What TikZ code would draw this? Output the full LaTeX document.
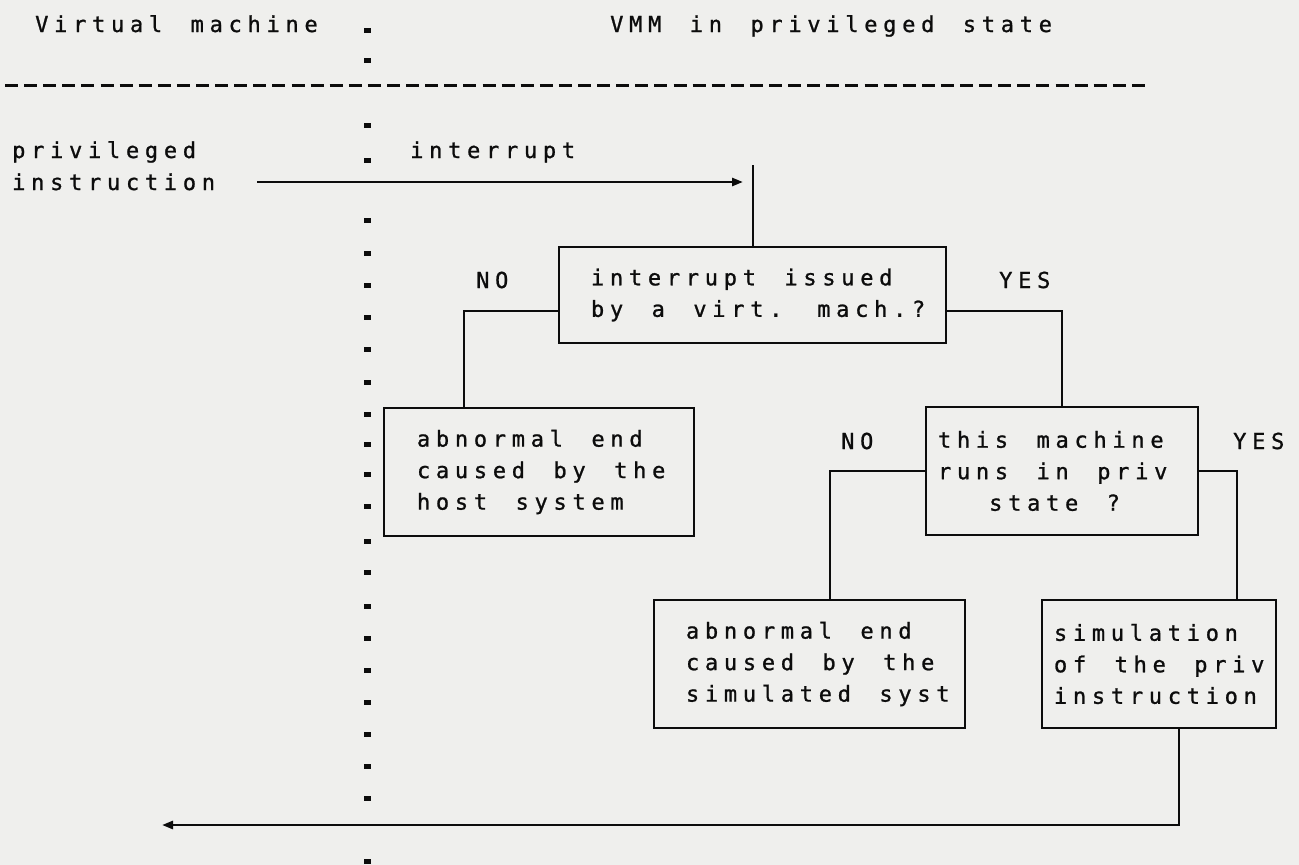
\documentclass[tikz,border=0pt]{standalone}
\usepackage{fontspec}
\newfontfamily\tw[LetterSpace=26,WordSpace={1.5,0,0},FakeBold=1]{DejaVu Sans Mono}
\newcommand\twf{\tw\fontsize{22pt}{31.5pt}\selectfont}
\usetikzlibrary{arrows.meta}
\definecolor{paper}{RGB}{239,239,237}
\definecolor{ink}{RGB}{12,12,12}
\begin{document}
\begin{tikzpicture}[x=1pt,y=-1pt,
  txt/.style={font=\twf, text=ink, inner sep=0pt, anchor=base west},
  bx/.style={draw=ink, line width=2.1pt, font=\twf, text=ink, inner sep=0pt, align=flush left, minimum height=128pt},
  conn/.style={draw=ink, line width=2pt},
  arr/.style={draw=ink, line width=2.6pt, -{Triangle[length=11pt,width=8pt]}}]
\fill[paper] (0,0) rectangle (1299,865);
\useasboundingbox (0,0) rectangle (1299,865);
% header texts
\node[txt] (vm) at (35,32) {Virtual machine};
\node[txt] (vmm) at (610,32) {VMM in privileged state};
\node[txt] (priv) at (12,158) {privileged};
\node[txt] (instr) at (12,190) {instruction};
\node[txt] (intr) at (410,158) {interrupt};
\node[txt] (no1) at (476,288) {NO};
\node[txt] (yes1) at (999,288) {YES};
\node[txt] (no2) at (841,449) {NO};
\node[txt] (yes2) at (1233,449) {YES};
% separator and dotted column
\draw[ink, line width=3pt, dash pattern=on 13pt off 6.1pt] (5,85) -- (1148,85);
\foreach \y in {30,60,125,160,220,253,285,317,349,382,414,444,474,506,541,572,606,638,670,702,734,766,798,861}
  \fill[ink] (363.5,\y-2.5) rectangle (370.5,\y+2.5);
% boxes
\node[bx, text width=387pt, minimum height=96pt] (b1) at (752.5,295) {\leftskip=32pt\relax interrupt issued\\by a virt. mach.?\par};
\node[bx, text width=310pt] (b2) at (539,472) {\leftskip=33pt\relax abnormal end\\caused by the\\host system\par};
\node[bx, text width=272pt] (b3) at (1062,471) {\leftskip=12pt\relax this machine\\runs in priv\\\hphantom{xxx}state ?\par};
\node[bx, text width=311pt] (b4) at (809.5,664) {\leftskip=32pt\relax abnormal end\\caused by the\\simulated syst\par};
\node[bx, text width=234pt] (b5) at (1159,664) {\leftskip=12pt\relax simulation\\of the priv\\instruction\par};
% connectors
\coordinate (aS) at (257,182);
\coordinate (aE) at (743,182);
\coordinate (vT) at (752.5,165);
\coordinate (rE) at (162,825);
\draw[arr] (aS) -- (aE);
\draw[conn] (vT) -- (b1.north);
\draw[conn] ([yshift=-16pt]b1.west) -| ([xshift=-75pt]b2.north);
\draw[conn] ([yshift=-16pt]b1.east) -| (b3.north);
\draw[conn] (b3.west) -| ([xshift=20pt]b4.north);
\draw[conn] (b3.east) -| ([xshift=78pt]b5.north);
\draw[arr] ([xshift=20pt]b5.south) |- (rE);
\end{tikzpicture}
\end{document}
